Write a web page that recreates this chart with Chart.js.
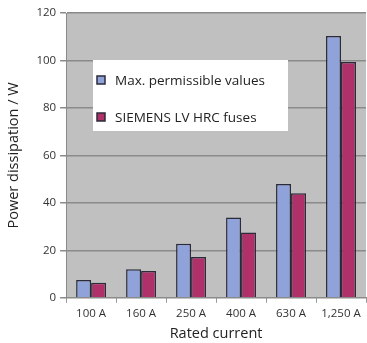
<!DOCTYPE html>
<html>
<head>
<meta charset="utf-8">
<script src="https://cdn.jsdelivr.net/npm/chart.js@4/dist/chart.umd.min.js"></script>
<style>
  html, body { margin: 0; padding: 0; background: #fff; }
  #wrap { width: 367px; height: 343px; }
</style>
</head>
<body>
<div id="wrap"><canvas id="chart" width="367" height="343"></canvas></div>
<script>
const categories = ['100 A', '160 A', '250 A', '400 A', '630 A', '1,250 A'];
const maxPermissible = [7.5, 12, 22.8, 33.8, 47.9, 110.3];
const siemensFuses = [6.3, 11.3, 17.2, 27.5, 44, 99.4];
const seriesNames = ['Max. permissible values', 'SIEMENS LV HRC fuses'];
const yTicks = [0, 20, 40, 60, 80, 100, 120];

const FONT = '"Open Sans", "DejaVu Sans", sans-serif';

// grey plot area behind the bars
const plotBg = {
  id: 'plotBg',
  beforeDraw(chart) {
    const { ctx, chartArea: a } = chart;
    ctx.save();
    ctx.fillStyle = '#c0c0c0';
    ctx.fillRect(a.left, a.top, a.right - a.left, a.bottom - a.top);
    ctx.restore();
  }
};

// legend box floating inside the plot
const innerLegend = {
  id: 'innerLegend',
  afterDatasetsDraw(chart) {
    const { ctx } = chart;
    const x = 93, y = 60, w = 195, h = 71;
    ctx.save();
    ctx.fillStyle = '#ffffff';
    ctx.fillRect(x, y, w, h);
    ctx.font = '13.5px ' + FONT;
    ctx.textBaseline = 'middle';
    chart.data.datasets.forEach((ds, i) => {
      const cy = y + 20 + i * 37;
      ctx.fillStyle = ds.backgroundColor;
      ctx.strokeStyle = '#2b2b3a';
      ctx.lineWidth = 1.5;
      ctx.fillRect(x + 4, cy - 4, 8, 8);
      ctx.strokeRect(x + 4, cy - 4, 8, 8);
      ctx.fillStyle = '#222';
      ctx.fillText(ds.label, x + 22, cy + 1);
    });
    ctx.restore();
  }
};

new Chart(document.getElementById('chart'), {
  type: 'bar',
  data: {
    labels: categories,
    datasets: [
      {
        label: seriesNames[0],
        data: maxPermissible,
        backgroundColor: '#8fa2da',
        borderColor: '#2b2b3a',
        borderWidth: 1.5,
        borderSkipped: 'bottom'
      },
      {
        label: seriesNames[1],
        data: siemensFuses,
        backgroundColor: '#b0306a',
        borderColor: '#2b2b3a',
        borderWidth: 1.5,
        borderSkipped: 'bottom'
      }
    ]
  },
  options: {
    responsive: false,
    animation: false,
    layout: { padding: { top: 13, right: 1, left: 5, bottom: 0 } },
    plugins: {
      legend: { display: false },
      tooltip: { enabled: false }
    },
    datasets: {
      bar: { categoryPercentage: 0.6, barPercentage: 1.0 }
    },
    scales: {
      x: {
        grid: { drawOnChartArea: false, drawTicks: true, tickLength: 5, color: '#9a9a9a' },
        border: { color: '#8a8a8a', width: 1 },
        ticks: { color: '#333', font: { family: FONT, size: 11.5 }, padding: 4 },
        title: { display: true, text: 'Rated current', color: '#222', font: { family: FONT, size: 14.5 }, padding: { top: 1, bottom: 0 } }
      },
      y: {
        min: 0,
        max: 120,
        afterBuildTicks(axis) { axis.ticks = yTicks.map(v => ({ value: v })); },
        grid: { color: '#8a8a8a', lineWidth: 1.5, tickLength: 6 },
        border: { color: '#8a8a8a', width: 1 },
        ticks: { color: '#333', font: { family: FONT, size: 11.5 }, padding: 4 },
        title: { display: true, text: 'Power dissipation / W', color: '#222', font: { family: FONT, size: 14.5 }, padding: { top: 0, bottom: 10 } }
      }
    }
  },
  plugins: [plotBg, innerLegend]
});
</script>
</body>
</html>
